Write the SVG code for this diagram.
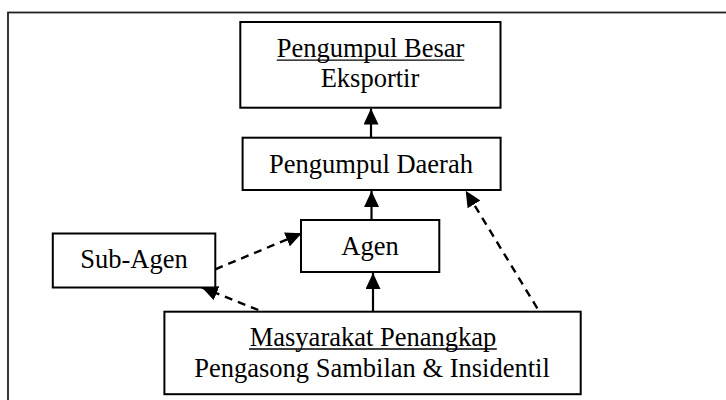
<svg xmlns="http://www.w3.org/2000/svg" width="726" height="400" viewBox="0 0 726 400">
<style>
.box{fill:#fff;stroke:#000;stroke-width:2}
.t{font-family:"Liberation Serif","Times New Roman",serif;font-size:26.5px;fill:#000;text-anchor:middle}
.solid{stroke:#000;stroke-width:2.2;fill:none}
.dash{stroke:#000;stroke-width:2.4;fill:none;stroke-dasharray:8 6}
.ul{stroke:#000;stroke-width:1.3}
</style>
<defs>
<marker id="ah" markerUnits="userSpaceOnUse" markerWidth="17" markerHeight="15" refX="16" refY="7.5" orient="auto">
<path d="M0,0 L16,7.5 L0,15 Z" fill="#000"/>
</marker>
</defs>
<rect width="726" height="400" fill="#fff"/>
<rect x="8" y="12.5" width="740" height="400" fill="none" stroke="#222" stroke-width="1.8"/>
<g id="connectors">
<line class="solid" x1="371" y1="137.7" x2="371" y2="108.5" marker-end="url(#ah)"/>
<line class="solid" x1="371.5" y1="220" x2="371.5" y2="191" marker-end="url(#ah)"/>
<line class="solid" x1="373" y1="311.5" x2="373" y2="273" marker-end="url(#ah)"/>
<line class="dash" x1="537.3" y1="308.3" x2="465.7" y2="190.7" marker-end="url(#ah)"/>
<line class="dash" x1="215.3" y1="269.3" x2="301.7" y2="233.3" marker-end="url(#ah)"/>
<line class="dash" x1="258.3" y1="310" x2="201.7" y2="287.3" marker-end="url(#ah)"/>
</g>
<g id="besar">
<rect class="box" x="240.3" y="22" width="260.2" height="85.7"/>
<text class="t" x="370.5" y="57.3">Pengumpul Besar</text>
<line class="ul" x1="276.7" y1="60.2" x2="464.3" y2="60.2"/>
<text class="t" x="370" y="87.3">Eksportir</text>
</g>
<g id="daerah">
<rect class="box" x="242.6" y="137.7" width="258" height="52.3"/>
<text class="t" x="371" y="172.7">Pengumpul Daerah</text>
</g>
<g id="agen">
<rect class="box" x="301" y="220" width="138.3" height="52"/>
<text class="t" x="370" y="255">Agen</text>
</g>
<g id="subagen">
<rect class="box" x="52.8" y="233.5" width="162.5" height="54"/>
<text class="t" x="134" y="268.3">Sub-Agen</text>
</g>
<g id="masyarakat">
<rect class="box" x="164.4" y="311.7" width="416.3" height="82.5"/>
<text class="t" x="373" y="346">Masyarakat Penangkap</text>
<line class="ul" x1="249" y1="349" x2="496.8" y2="349"/>
<text class="t" x="372" y="376.7">Pengasong Sambilan &amp; Insidentil</text>
</g>
</svg>
